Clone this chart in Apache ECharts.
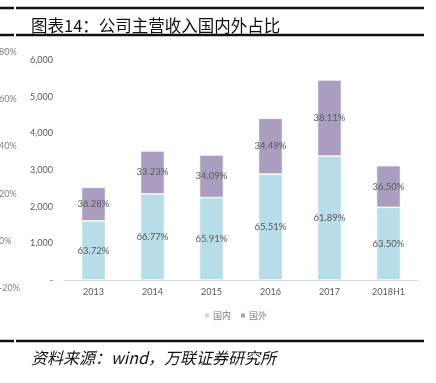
<!DOCTYPE html>
<html><head><meta charset="utf-8">
<script src="https://cdn.jsdelivr.net/npm/echarts@6/dist/echarts.min.js"></script>
<style>html,body{margin:0;padding:0;background:#fff}#c{width:436px;height:383px}</style>
</head><body><div id="c"></div>
<script>
var categories = ['2013','2014','2015','2016','2017','2018H1'];
var domestic = [1612, 2350, 2248, 2889, 3376, 1981];
var foreign = [918, 1170, 1162, 1521, 2078, 1139];
var domesticPct = ['63.72%','66.77%','65.91%','65.51%','61.89%','63.50%'];
var foreignPct = ['36.28%','33.23%','34.09%','34.49%','38.11%','36.50%'];
var seriesNames = ['国内','国外'];
var titleText = '图表14：公司主营收入国内外占比';
var sourceText = '资料来源：wind，万联证券研究所';

var chart = echarts.init(document.getElementById('c'));
var cjk = '"Noto Sans CJK SC", "Noto Sans", sans-serif';
var lat = 'Lato, "Liberation Sans", "Noto Sans CJK SC", sans-serif';
function lineSeg(x1,x2,y,w){return {type:'line',shape:{x1:x1,y1:y,x2:x2,y2:y},style:{stroke:'#111',lineWidth:w},silent:true};}
chart.setOption({
  animation:false,
  title:[
    {text:titleText,left:26,top:12,textStyle:{fontFamily:cjk,fontSize:16.5,fontWeight:'normal',color:'#111'}},
    {text:sourceText,left:26,top:345,textStyle:{fontFamily:cjk,fontSize:16,fontWeight:'normal',fontStyle:'italic',color:'#111'}}
  ],
  graphic:[
    lineSeg(0,14,8,2.5), lineSeg(16,424,8,2.5),
    lineSeg(0,14,35,2.5), lineSeg(16,424,35,2.5),
    lineSeg(0,14,341,2.5), lineSeg(16,424,341,2.5)
  ],
  legend:{data:seriesNames,top:306,left:198,icon:'rect',itemWidth:6,itemHeight:6,itemGap:8,
    textStyle:{fontFamily:cjk,fontSize:9,color:'#7f7f7f',padding:[0,0,0,-2]}},
  grid:[
    {left:64,right:18,top:60,bottom:103},
    {left:20,width:10,top:52,bottom:95}
  ],
  xAxis:[
    {type:'category',data:categories,gridIndex:0,axisLine:{lineStyle:{color:'#d9d9d9'}},axisTick:{show:false},
      axisLabel:{color:'#595959',fontFamily:lat,fontSize:9,margin:8}},
    {type:'value',gridIndex:1,show:false}
  ],
  yAxis:[
    {type:'value',gridIndex:0,min:0,max:6000,interval:1000,splitLine:{show:false},axisLine:{show:false},axisTick:{show:false},
      axisLabel:{color:'#595959',fontFamily:lat,fontSize:9,margin:11,
        formatter:function(v){return v===0?'-':v.toLocaleString('en-US');}}},
    {type:'value',gridIndex:1,min:-20,max:80,interval:20,splitLine:{show:false},axisLine:{show:false},axisTick:{show:false},
      axisLabel:{color:'#7f7f7f',fontFamily:lat,fontSize:9,margin:31,align:'left',formatter:'{value}%'}}
  ],
  series:[
    {name:seriesNames[0],type:'bar',stack:'a',data:domestic,barWidth:24,xAxisIndex:0,yAxisIndex:0,
      itemStyle:{color:'#B7DDE8',borderColor:'#fff',borderWidth:0.7},
      label:{show:true,position:'inside',color:'#595959',fontFamily:lat,fontSize:9.5,
        formatter:function(p){return domesticPct[p.dataIndex];}}},
    {name:seriesNames[1],type:'bar',stack:'a',data:foreign,barWidth:24,xAxisIndex:0,yAxisIndex:0,
      itemStyle:{color:'#AB9DBF',borderColor:'#fff',borderWidth:0.7},
      label:{show:true,position:'inside',color:'#595959',fontFamily:lat,fontSize:9.5,
        formatter:function(p){return foreignPct[p.dataIndex];}}}
  ]
});
</script></body></html>
